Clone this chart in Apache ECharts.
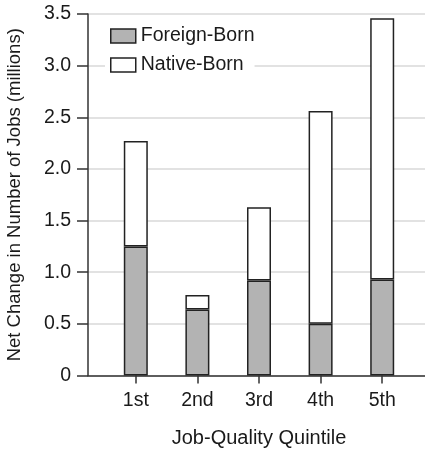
<!DOCTYPE html>
<html>
<head>
<meta charset="utf-8">
<script src="https://cdn.jsdelivr.net/npm/echarts@6/dist/echarts.min.js"></script>
<style>html,body{margin:0;padding:0;background:#fff}#c{width:425px;height:452px}</style>
</head>
<body>
<div id="c"></div>
<script>
const categories = ['1st', '2nd', '3rd', '4th', '5th'];
const foreignBorn = [1.25, 0.64, 0.92, 0.50, 0.93];
const nativeBorn = [1.02, 0.14, 0.71, 2.06, 2.53];
const yMin = 0, yMax = 3.5, yStep = 0.5;
const xTitle = 'Job-Quality Quintile';
const yTitle = 'Net Change in Number of Jobs (millions)';

const FONT = '"Liberation Sans", Arial, Helvetica, sans-serif';
const TXT = '#1a1a1a';
const AX = '#333';
const chart = echarts.init(document.getElementById('c'), null, {renderer: 'canvas'});
chart.setOption({
  animation: false,
  backgroundColor: '#fff',
  textStyle: {fontFamily: FONT},
  grid: [
    {left: 88, right: 0, top: 14, bottom: 76.5, containLabel: false, outerBoundsMode: 'none'},
    {left: 105, right: 12, top: 14, bottom: 76.5, containLabel: false, outerBoundsMode: 'none'}
  ],
  xAxis: [
    {gridIndex: 0, type: 'value', min: 0, max: 1, axisLabel: {show: false}, axisTick: {show: false},
     splitLine: {show: false}, axisLine: {show: true, lineStyle: {color: AX, width: 1.5}}},
    {gridIndex: 1, type: 'category', data: categories, boundaryGap: true,
     axisLine: {show: false}, axisTick: {show: true, alignWithLabel: true, length: 8, lineStyle: {color: AX, width: 1.5}},
     axisLabel: {color: TXT, fontSize: 19.5, fontFamily: FONT, margin: 15},
     name: xTitle, nameLocation: 'middle', nameGap: 53,
     nameTextStyle: {color: TXT, fontSize: 20, fontFamily: FONT}}
  ],
  yAxis: [
    {gridIndex: 0, type: 'value', min: yMin, max: yMax, interval: yStep,
     axisLine: {show: true, lineStyle: {color: AX, width: 1.5}},
     axisTick: {show: true, length: 11, lineStyle: {color: AX, width: 1.5}},
     axisLabel: {color: TXT, fontSize: 19.5, fontFamily: FONT, margin: 17,
       formatter: v => v === 0 ? '0' : v.toFixed(1)},
     splitLine: {show: true, lineStyle: {color: '#d9d9d9', width: 1.5}},
     name: yTitle, nameLocation: 'middle', nameGap: 64, nameRotate: 90,
     nameTextStyle: {color: TXT, fontSize: 18.5, fontFamily: FONT}},
    {gridIndex: 1, type: 'value', min: yMin, max: yMax, show: false, splitLine: {show: false}}
  ],
  legend: {
    orient: 'vertical', left: 105, top: 21, padding: [5, 0, 5, 5],
    backgroundColor: '#fff',
    itemWidth: 25, itemHeight: 14, itemGap: 9,
    icon: 'rect',
    textStyle: {color: TXT, fontSize: 19.5, fontFamily: FONT, lineHeight: 14},
    data: [
      {name: 'Foreign-Born', itemStyle: {color: '#b3b3b3', borderColor: '#222', borderWidth: 1.5}},
      {name: 'Native-Born', itemStyle: {color: '#fff', borderColor: '#222', borderWidth: 1.5}}
    ]
  },
  series: [
    {name: 'Foreign-Born', type: 'bar', stack: 'total', xAxisIndex: 1, yAxisIndex: 1, barWidth: 24,
     data: foreignBorn, itemStyle: {color: '#b3b3b3', borderColor: '#222', borderWidth: 1.5}},
    {name: 'Native-Born', type: 'bar', stack: 'total', xAxisIndex: 1, yAxisIndex: 1, barWidth: 24,
     data: nativeBorn, itemStyle: {color: '#fff', borderColor: '#222', borderWidth: 1.5}}
  ]
});
</script>
</body>
</html>
